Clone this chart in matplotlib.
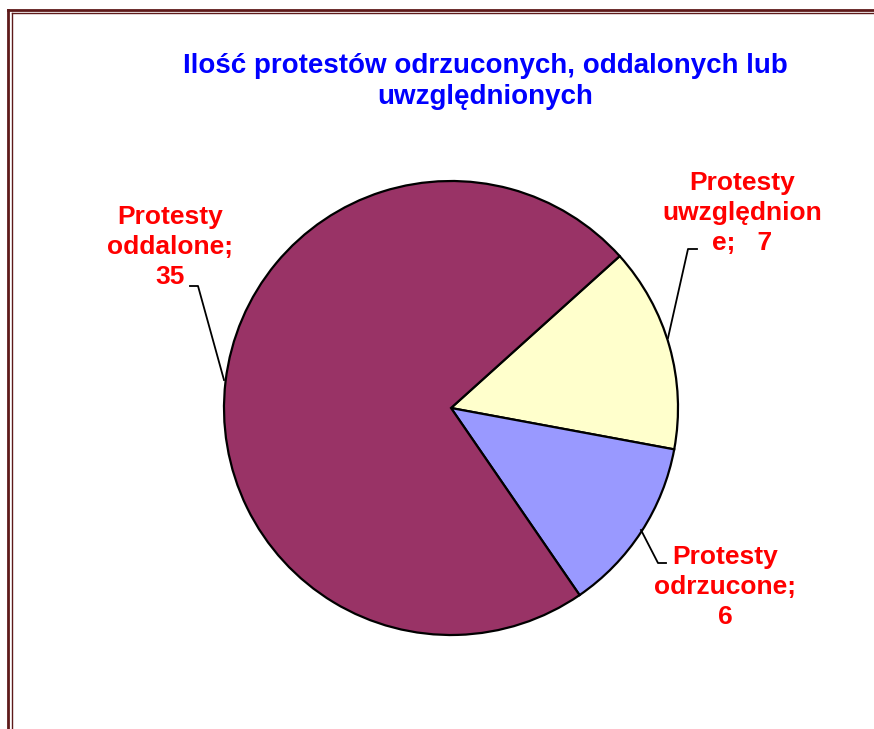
import matplotlib.pyplot as plt
from matplotlib.lines import Line2D

plt.rcParams['font.family'] = ['Liberation Sans', 'DejaVu Sans']

# data (order drawn clockwise from the start angle)
labels = ['Protesty\nuwzględnion\ne;   7', 'Protesty\nodrzucone;\n6', 'Protesty\noddalone;\n35']
values = [7, 6, 35]
colors = ['#FFFFCC', '#9999FF', '#993366']

W, H = 874, 729
fig = plt.figure(figsize=(W / 100, H / 100), dpi=100)
ax = fig.add_axes([0, 0, 1, 1])

cx, cy, r = 451, H - 408, 227
wedges, _ = ax.pie(values, colors=colors, startangle=42, counterclock=False,
                   center=(cx, cy), radius=r, frame=True,
                   wedgeprops=dict(edgecolor='black', linewidth=1.6))
ax.set_xlim(0, W)
ax.set_ylim(0, H)
ax.set_aspect('equal')
ax.axis('off')

# labels with leader lines (pixel positions, y measured from top)
label_pos = [(742, 213), (725, 587), (170, 247)]
leaders = [
    [(668, 338), (688, 249), (697, 249)],
    [(641, 530), (658, 563), (666, 563)],
    [(224, 380), (198, 286), (190, 286)],
]
for lab, (lx, ly), pts in zip(labels, label_pos, leaders):
    ax.text(lx, H - ly, lab, ha='center', va='center', color='#FF0000',
            fontsize=19, fontweight='bold', linespacing=1.29)
    ax.plot([p[0] for p in pts], [H - p[1] for p in pts], color='black', lw=1.3)

ax.text(485, H - 81, 'Ilość protestów odrzuconych, oddalonych lub\nuwzględnionych',
        ha='center', va='center', color='#0000FF', fontsize=20,
        fontweight='bold', linespacing=1.25)

# double frame on the left and top
fc = '#5E1A1A'
fig.add_artist(Line2D([7.5 / W, 7.5 / W], [0, 1 - 9.5 / H], color=fc, lw=2.0,
                      transform=fig.transFigure))
fig.add_artist(Line2D([7.5 / W, 1], [1 - 9.5 / H, 1 - 9.5 / H], color=fc, lw=2.0,
                      transform=fig.transFigure))
fig.add_artist(Line2D([11.5 / W, 11.5 / W], [0, 1 - 13 / H], color=fc, lw=1.0,
                      transform=fig.transFigure))
fig.add_artist(Line2D([11.5 / W, 1], [1 - 13 / H, 1 - 13 / H], color=fc, lw=1.0,
                      transform=fig.transFigure))

fig.savefig('out.png', dpi=100)
